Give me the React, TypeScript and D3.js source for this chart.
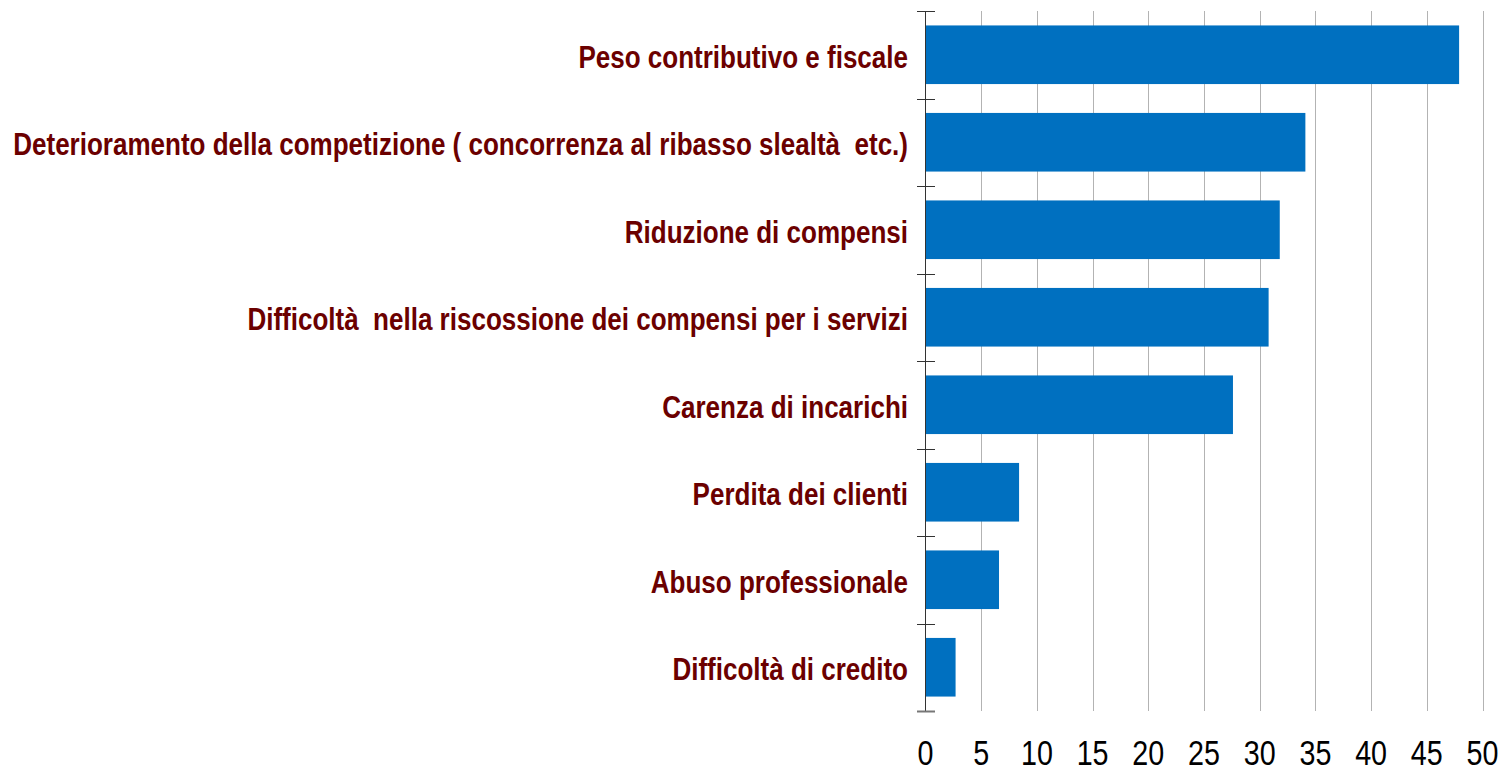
import React from "react";
import * as d3 from "d3";

const categories = [
  "Peso contributivo e fiscale",
  "Deterioramento della competizione ( concorrenza al ribasso slealtà  etc.)",
  "Riduzione di compensi",
  "Difficoltà  nella riscossione dei compensi per i servizi",
  "Carenza di incarichi",
  "Perdita dei clienti",
  "Abuso professionale",
  "Difficoltà di credito",
];
const values = [47.9, 34.1, 31.8, 30.8, 27.6, 8.4, 6.6, 2.7];
const xTicks = [0, 5, 10, 15, 20, 25, 30, 35, 40, 45, 50];

const W = 1502;
const H = 770;
const FONT = "'Liberation Sans', Arial, sans-serif";
const NARROW_LABEL = 0.813;
const NARROW_TICK = 0.82;

export default function App() {
  const x = d3.scaleLinear().domain([0, 50]).range([925.5, 1482.5]);
  const y = d3
    .scaleBand<string>()
    .domain(categories)
    .range([11, 711])
    .paddingInner(0.33)
    .paddingOuter(0.165);
  const step = y.step();
  const boundaries = d3.range(categories.length + 1).map((i) => 11 + i * step);

  return (
    <svg
      width={W}
      height={H}
      style={{ position: "absolute", left: 0, top: 0, background: "#fff" }}
    >
      {xTicks.slice(1).map((t) => (
        <line
          key={"g" + t}
          x1={Math.round(x(t)) + 0.5}
          x2={Math.round(x(t)) + 0.5}
          y1={11}
          y2={711}
          stroke="#b3b3b3"
          strokeWidth={1}
        />
      ))}
      {categories.map((c, i) => (
        <rect
          key={c}
          x={x(0)}
          y={y(c)}
          width={x(values[i]) - x(0)}
          height={y.bandwidth()}
          fill="#0070c0"
        />
      ))}
      <line x1={925.5} x2={925.5} y1={11} y2={711} stroke="#333" strokeWidth={1} />
      {boundaries.map((b, i) => (
        <line
          key={"t" + i}
          x1={917}
          x2={935}
          y1={Math.round(b) + 0.5}
          y2={Math.round(b) + 0.5}
          stroke={i === boundaries.length - 1 ? "#777" : "#333"}
          strokeWidth={i === boundaries.length - 1 ? 2 : 1}
        />
      ))}
      {categories.map((c) => (
        <g
          key={"l" + c}
          transform={`translate(908,${(y(c) as number) + y.bandwidth() / 2}) scale(${NARROW_LABEL},1)`}
        >
          <text
            x={0}
            y={0}
            dy="0.41em"
            textAnchor="end"
            fill="#6b0000"
            fontFamily={FONT}
            fontWeight="bold"
            fontSize={32}
            style={{ whiteSpace: "pre" }}
          >
            {c}
          </text>
        </g>
      ))}
      {xTicks.map((t) => (
        <g key={"x" + t} transform={`translate(${x(t)},765) scale(${NARROW_TICK},1)`}>
          <text
            x={0}
            y={0}
            textAnchor="middle"
            fill="#000"
            fontFamily={FONT}
            fontSize={35}
          >
            {t}
          </text>
        </g>
      ))}
    </svg>
  );
}
